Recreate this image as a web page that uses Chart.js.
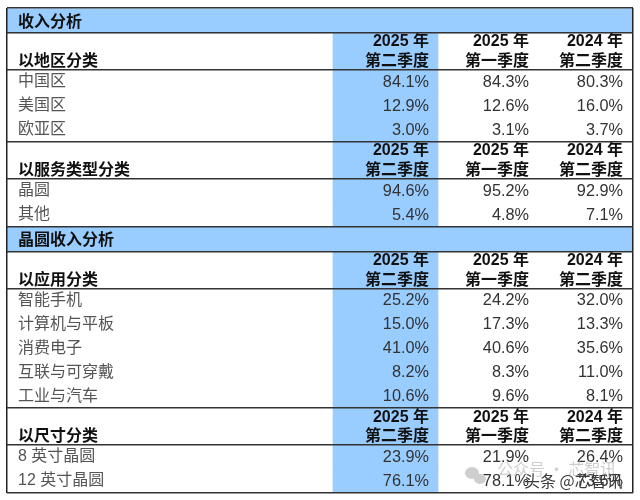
<!DOCTYPE html>
<html>
<head>
<meta charset="utf-8">
<style>
  html, body { margin: 0; padding: 0; background: #fff; }
  canvas { display: block; }
</style>
<script src="https://cdn.jsdelivr.net/npm/chart.js@4"></script>
</head>
<body>
<canvas id="c" width="640" height="500"></canvas>
<script>
// ─── DATA ─────────────────────────────────────────────────────────────────────
const periodYears = ['2025 年', '2025 年', '2024 年'];
const periodQuarters = ['第二季度', '第一季度', '第二季度'];

const regionLabels = ['中国区', '美国区', '欧亚区'];
const regionValues = [['84.1%', '84.3%', '80.3%'], ['12.9%', '12.6%', '16.0%'], ['3.0%', '3.1%', '3.7%']];

const serviceLabels = ['晶圆', '其他'];
const serviceValues = [['94.6%', '95.2%', '92.9%'], ['5.4%', '4.8%', '7.1%']];

const appLabels = ['智能手机', '计算机与平板', '消费电子', '互联与可穿戴', '工业与汽车'];
const appValues = [
    ['25.2%', '24.2%', '32.0%'], ['15.0%', '17.3%', '13.3%'], ['41.0%', '40.6%', '35.6%'],
    ['8.2%', '8.3%', '11.0%'], ['10.6%', '9.6%', '8.1%']
];

const sizeLabels = ['8 英寸晶圆', '12 英寸晶圆'];
const sizeValues = [['23.9%', '21.9%', '26.4%'], ['76.1%', '78.1%', '73.6%']];

const watermarkBack = '公众号 · 芯智讯';
const watermarkFront = '头条 @芯智讯';

// ─── ROWS ─────────────────────────────────────────────────────────────────────
const SINGLE = 24, BAND = 25, HEAD = 37;
const rows = [];
const addBand = t => rows.push({ kind: 'band', label: t, h: BAND });
const addGroup = (title, labels, values) => {
    rows.push({ kind: 'head', label: title, h: HEAD });
    labels.forEach((l, i) => rows.push({ kind: 'data', label: l, values: values[i], h: SINGLE }));
};
addBand('收入分析');
addGroup('以地区分类', regionLabels, regionValues);
addGroup('以服务类型分类', serviceLabels, serviceValues);
addBand('晶圆收入分析');
addGroup('以应用分类', appLabels, appValues);
addGroup('以尺寸分类', sizeLabels, sizeValues);

let cursor = 0;
rows.forEach(r => { r.top = cursor; cursor += r.h; r.bottom = cursor; });
const tableHeight = cursor;
const tableWidth = 626;

// x scale runs in table units, one unit per pixel
const hiLeft = 326, hiRight = 431;
const colRight = [422, 522, 616];
const labelX = 11;

const NUM_FONT = "'Liberation Sans', Arial, sans-serif";
const CJK_FONT = "'Noto Sans CJK SC', sans-serif";

// rule positions: top and bottom of every band and head row
const rulesY = [...new Set(rows.flatMap(r => r.kind === 'data' ? [] : [r.top, r.bottom]).concat([tableHeight]))];

// ─── TEXT PLUGIN ──────────────────────────────────────────────────────────────
const tableText = {
    id: 'tableText',
    afterDatasetsDraw(chart) {
        const { ctx, scales: { x, y } } = chart;
        ctx.save();
        ctx.textBaseline = 'middle';
        rows.forEach(r => {
            const mid = y.getPixelForValue((r.top + r.bottom) / 2);
            ctx.textAlign = 'left';
            if (r.kind === 'band') {
                ctx.fillStyle = '#111';
                ctx.font = 'bold 16px ' + CJK_FONT;
                ctx.fillText(r.label, x.getPixelForValue(labelX), mid);
            } else if (r.kind === 'head') {
                ctx.fillStyle = '#111';
                ctx.font = 'bold 16px ' + CJK_FONT;
                ctx.fillText(r.label, x.getPixelForValue(labelX), y.getPixelForValue(r.bottom - 10));
                ctx.textAlign = 'right';
                colRight.forEach((cx, i) => {
                    ctx.font = 'bold 16px ' + NUM_FONT + ', ' + CJK_FONT;
                    ctx.fillText(periodYears[i], x.getPixelForValue(cx), y.getPixelForValue(r.top + 9));
                    ctx.font = 'bold 16px ' + CJK_FONT;
                    ctx.fillText(periodQuarters[i], x.getPixelForValue(cx), y.getPixelForValue(r.bottom - 10));
                });
            } else {
                ctx.fillStyle = '#555';
                ctx.font = '16px ' + NUM_FONT + ', ' + CJK_FONT;
                ctx.fillText(r.label, x.getPixelForValue(labelX), mid);
                ctx.textAlign = 'right';
                ctx.fillStyle = '#333';
                ctx.font = '16.3px ' + NUM_FONT;
                r.values.forEach((v, i) => ctx.fillText(v, x.getPixelForValue(colRight[i]), mid + 0.5));
            }
        });

        // watermark sits over the last row
        ctx.textAlign = 'left';
        ctx.fillStyle = 'rgba(190,190,190,0.75)';
        ctx.font = '16px ' + CJK_FONT;
        ctx.fillText(watermarkBack, 497, 469);
        ctx.beginPath();
        ctx.ellipse(472, 473, 7, 6, 0, 0, Math.PI * 2);
        ctx.ellipse(480, 479, 6, 5, 0, 0, Math.PI * 2);
        ctx.fill();
        ctx.fillStyle = '#3a3a3a';
        ctx.font = '16px ' + CJK_FONT;
        ctx.fillText(watermarkFront, 524, 481);
        ctx.restore();
    }
};

// ─── CHART ────────────────────────────────────────────────────────────────────
const bandRows = rows.filter(r => r.kind === 'band');
const cellRows = rows.filter(r => r.kind !== 'band');

new Chart(document.getElementById('c'), {
    type: 'bar',
    data: {
        datasets: [
            {
                label: 'Bands',
                data: bandRows.map(r => ({ x: tableWidth / 2, y: [r.top, r.bottom] })),
                backgroundColor: '#99CCFF',
                barThickness: tableWidth,
                grouped: false
            },
            {
                label: 'Highlight',
                data: cellRows.map(r => ({ x: (hiLeft + hiRight) / 2, y: [r.top, r.bottom] })),
                backgroundColor: '#99CCFF',
                barThickness: hiRight - hiLeft,
                grouped: false
            }
        ]
    },
    options: {
        responsive: false,
        animation: false,
        devicePixelRatio: 1,
        layout: { padding: { left: 7, top: 8, right: 7, bottom: 7 } },
        plugins: { legend: { display: false }, tooltip: { enabled: false } },
        scales: {
            x: {
                type: 'linear',
                offset: false,
                min: 0,
                max: tableWidth,
                afterBuildTicks: s => { s.ticks = [{ value: 0 }, { value: tableWidth }]; },
                ticks: { display: false },
                border: { display: false },
                grid: { offset: false, color: '#222', lineWidth: 1.5, drawTicks: false, z: 1 }
            },
            y: {
                type: 'linear',
                reverse: true,
                min: 0,
                max: tableHeight,
                afterBuildTicks: s => { s.ticks = rulesY.map(v => ({ value: v })); },
                ticks: { display: false },
                border: { display: false },
                grid: { color: '#333', lineWidth: 1.5, drawTicks: false, z: 1 }
            }
        }
    },
    plugins: [tableText]
});
</script>
</body>
</html>
